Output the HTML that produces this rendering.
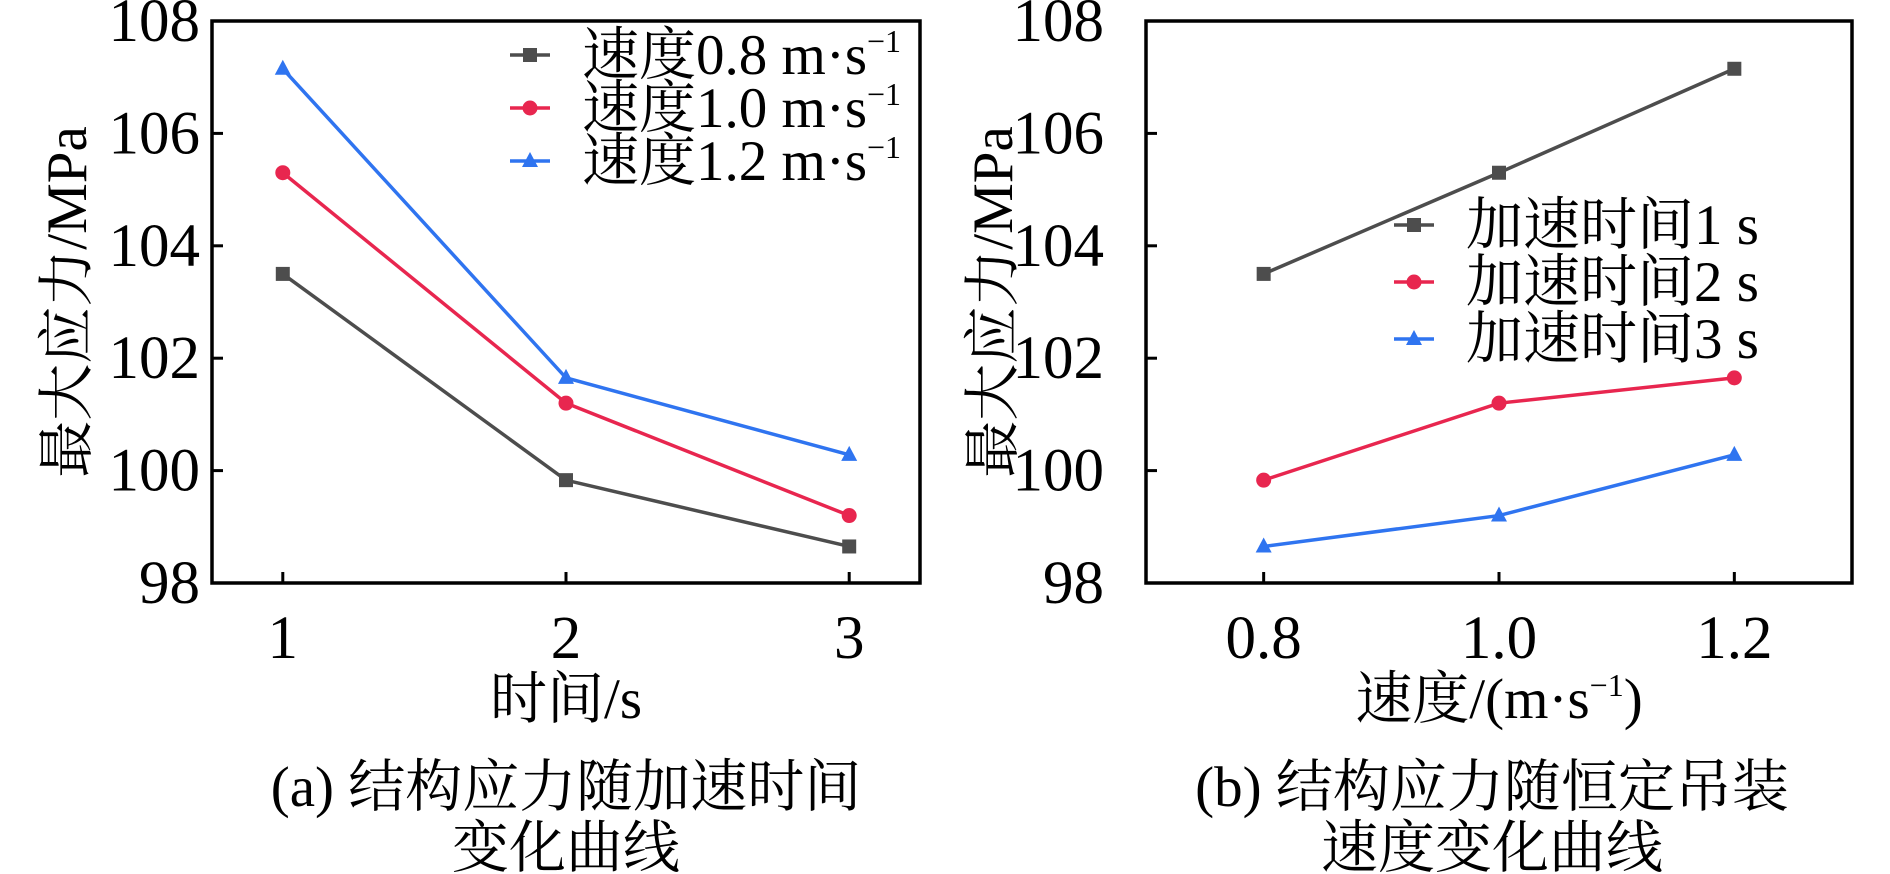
<!DOCTYPE html>
<html><head><meta charset="utf-8">
<style>
html,body{margin:0;padding:0;background:#fff;}
svg{display:block;}
text{font-family:"Liberation Serif","Noto Serif CJK SC","Noto Sans CJK SC",serif;fill:#000;}
</style></head>
<body>
<svg id="chart" width="1890" height="874" viewBox="0 0 1890 874" xmlns="http://www.w3.org/2000/svg"></svg>
<script>
const yTicks = [98,100,102,104,106,108];
const leftCats = [1,2,3];
const leftCatLabels = ["1","2","3"];
const rightCats = [0.8,1.0,1.2];
const rightCatLabels = ["0.8","1.0","1.2"];
const leftSeriesNames = ["速度0.8 m·s","速度1.0 m·s","速度1.2 m·s"];
const rightSeriesNames = ["加速时间1 s","加速时间2 s","加速时间3 s"];
const sBlack = [103.5, 99.83, 98.65];
const sRed = [105.3, 101.2, 99.2];
const sBlue = [107.15, 101.65, 100.28];
const rBlack = [103.5, 105.3, 107.15];
const rRed = [99.83, 101.2, 101.65];
const rBlue = [98.65, 99.2, 100.28];

const NS="http://www.w3.org/2000/svg";
const svg=document.getElementById('chart');
const colors=["#4d4d4d","#e8264f","#2f74f0"];
const markers=["square","circle","triangle"];
const FS=57;
const TFS=61;
function mk(tag,attrs,parent){const e=document.createElementNS(NS,tag);for(const k in attrs)e.setAttribute(k,attrs[k]);(parent||svg).appendChild(e);return e;}
function marker(g,type,x,y,c){
  let m;
  if(type==="square") m=mk('rect',{x:x-7,y:y-7,width:14,height:14,fill:c},g);
  else if(type==="circle") m=mk('circle',{cx:x,cy:y,r:7.5,fill:c},g);
  else m=mk('polygon',{points:`${x},${y-9} ${x-8},${y+6} ${x+8},${y+6}`,fill:c},g);
  
  
}
function panel(opt){
  const {x0,x1,y0,y1,xmin,xmax,cats,catLabels,series,names,id,legX,legY,legGap,sup,xTitle,yTitleX,tickRight}=opt;
  const X=v=>x0+(v-xmin)/(xmax-xmin)*(x1-x0);
  const Y=v=>y1-(v-98)/(108-98)*(y1-y0);
  const g=mk('g',{});
  
  
  yTicks.forEach(t=>{
    const l=mk('line',{x1:x0,x2:x0+11,y1:Y(t),y2:Y(t),stroke:'#000','stroke-width':3},g);
    
    
    const tx=mk('text',{x:tickRight,y:Y(t)+20,'text-anchor':'end','font-size':TFS},g);
    tx.textContent=t;
    
    
  });
  cats.forEach((c,i)=>{
    const l=mk('line',{x1:X(c),x2:X(c),y1:y1,y2:y1-11,stroke:'#000','stroke-width':3},g);
    
    
    const tx=mk('text',{x:X(c),y:658,'text-anchor':'middle','font-size':TFS},g);
    tx.textContent=catLabels[i];
    
    
  });
  series.forEach((s,si)=>{
    const sg=mk('g',{},g);
    
    
    const pts=s.map((v,i)=>X(cats[i])+','+Y(v)).join(' ');
    const pl=mk('polyline',{points:pts,fill:'none',stroke:colors[si],'stroke-width':3.5},sg);
    
    
    s.forEach((v,i)=>marker(sg,markers[si],X(cats[i]),Y(v),colors[si]));
  });
  const fr=mk('rect',{x:x0,y:y0,width:x1-x0,height:y1-y0,fill:'none',stroke:'#000','stroke-width':3.5},g);
  
  
  names.forEach((n,i)=>{
    const lg=mk('g',{},g);
    
    
    const yy=legY+i*legGap;
    mk('line',{x1:legX,x2:legX+40,y1:yy,y2:yy,stroke:colors[i],'stroke-width':3.5},lg);
    marker(lg,markers[i],legX+20,yy,colors[i]);
    const t=mk('text',{x:legX+72,y:yy+19,'font-size':FS},lg);
    t.textContent=n;
    if(sup){const ts=mk('tspan',{dy:-22,'font-size':32},t);ts.textContent='−1';}
  });
  const yt=mk('text',{x:0,y:0,'text-anchor':'middle','font-size':FS,transform:`translate(${yTitleX},${(y0+y1)/2}) rotate(-90)`},g);
  yt.textContent='最大应力/MPa';
  
  
  const xt=mk('text',{x:(x0+x1)/2,y:718,'text-anchor':'middle','font-size':FS},g);
  xt.innerHTML=xTitle;
  
  
}
panel({x0:212,x1:920,y0:21,y1:583,xmin:0.75,xmax:3.25,cats:leftCats,catLabels:leftCatLabels,series:[sBlack,sRed,sBlue],names:leftSeriesNames,id:'left',legX:510,legY:55,legGap:53,sup:true,xTitle:'时间/s',yTitleX:86,tickRight:200});
panel({x0:1146,x1:1852,y0:21,y1:583,xmin:0.7,xmax:1.3,cats:rightCats,catLabels:rightCatLabels,series:[rBlack,rRed,rBlue],names:rightSeriesNames,id:'right',legX:1394,legY:225,legGap:57,sup:false,xTitle:'速度/(m·s<tspan dy="-22" font-size="32">−1</tspan><tspan dy="22">)</tspan>',yTitleX:1012,tickRight:1104});
const caps=[[566,806,'(a) 结构应力随加速时间','left-caption-line1'],[566,867,'变化曲线','left-caption-line2'],[1492,806,'(b) 结构应力随恒定吊装','right-caption-line1'],[1492,867,'速度变化曲线','right-caption-line2']];
caps.forEach(c=>{const t=mk('text',{x:c[0],y:c[1],'text-anchor':'middle','font-size':FS});t.textContent=c[2];

});
</script>
</body></html>
